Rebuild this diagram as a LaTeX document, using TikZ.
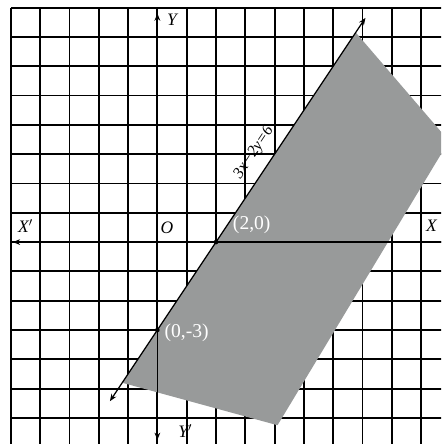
\documentclass[tikz,border=0pt]{standalone}
\usepackage{fontspec}
\setmainfont{Liberation Serif}
\usetikzlibrary{arrows.meta}
\definecolor{regiongray}{RGB}{152,154,154}
\tikzset{
  gridline/.style={line width=1.8pt, black},
  axisline/.style={line width=1.6pt, black},
  tipboth/.style={{Stealth[length=7pt,width=5.5pt]}-{Stealth[length=7pt,width=5.5pt]}},
  tipend/.style={-{Stealth[length=7pt,width=5.5pt]}},
  axlbl/.style={font=\fontsize{17}{20}\selectfont\itshape, inner sep=0pt},
  pt/.style={circle, fill=black, inner sep=0pt, minimum size=4.5pt},
  ptlbl/.style={font=\fontsize{19}{22}\selectfont, text=white, inner sep=0pt},
  eqlbl/.style={font=\fontsize{15.5}{18}\selectfont\itshape, inner sep=0pt, rotate=56.3}
}
\begin{document}
\begin{tikzpicture}
\useasboundingbox (-5.37,-6.89) rectangle (9.68,8.26);
\clip (-5.37,-6.89) rectangle (9.68,8.26);
% grid
\foreach \x in {-5,...,9} \draw[gridline] (\x,-6.95) -- (\x,8);
\foreach \y in {-6,...,8} \draw[gridline] (-5,\y) -- (9.75,\y);
% shaded region
\fill[regiongray] (6.77,7.15) -- (9.95,3.45) -- (4.1,-6.25) -- (-1.2,-4.8) -- cycle;
% axes
\coordinate (xr) at (9.75,0);
\coordinate (xl) at (-4.93,0);
\coordinate (yt) at (0,7.8);
\coordinate (yb) at (0,-6.75);
\draw[axisline, tipend] (xr) -- (xl);
\draw[axisline, tipboth] (yb) -- (yt);
% line 3x-2y=6
\coordinate (la) at (-1.62,-5.43);
\coordinate (lb) at (7.1,7.65);
\draw[line width=1.2pt, tipboth] (la) -- (lb);
\node[pt] (p1) at (2,0) {};
\node[pt] (p2) at (0,-3) {};
% labels
\node[ptlbl] (l1) at (3.22,0.6) {(2,0)};
\node[ptlbl] (l2) at (1.0,-3.1) {(0,-3)};
\node[axlbl] (o) at (0.33,0.5) {O};
\node[axlbl] (xlab) at (9.35,0.54) {X};
\node[axlbl] (xplab) at (-4.5,0.54) {X$'$};
\node[axlbl] (yplab) at (0.95,-6.45) {Y$'$};
\node[axlbl] (ylab) at (0.5,7.6) {Y};
\node[eqlbl] (eq) at (3.3,3.05) {3x−2y=6};
\end{tikzpicture}
\end{document}
